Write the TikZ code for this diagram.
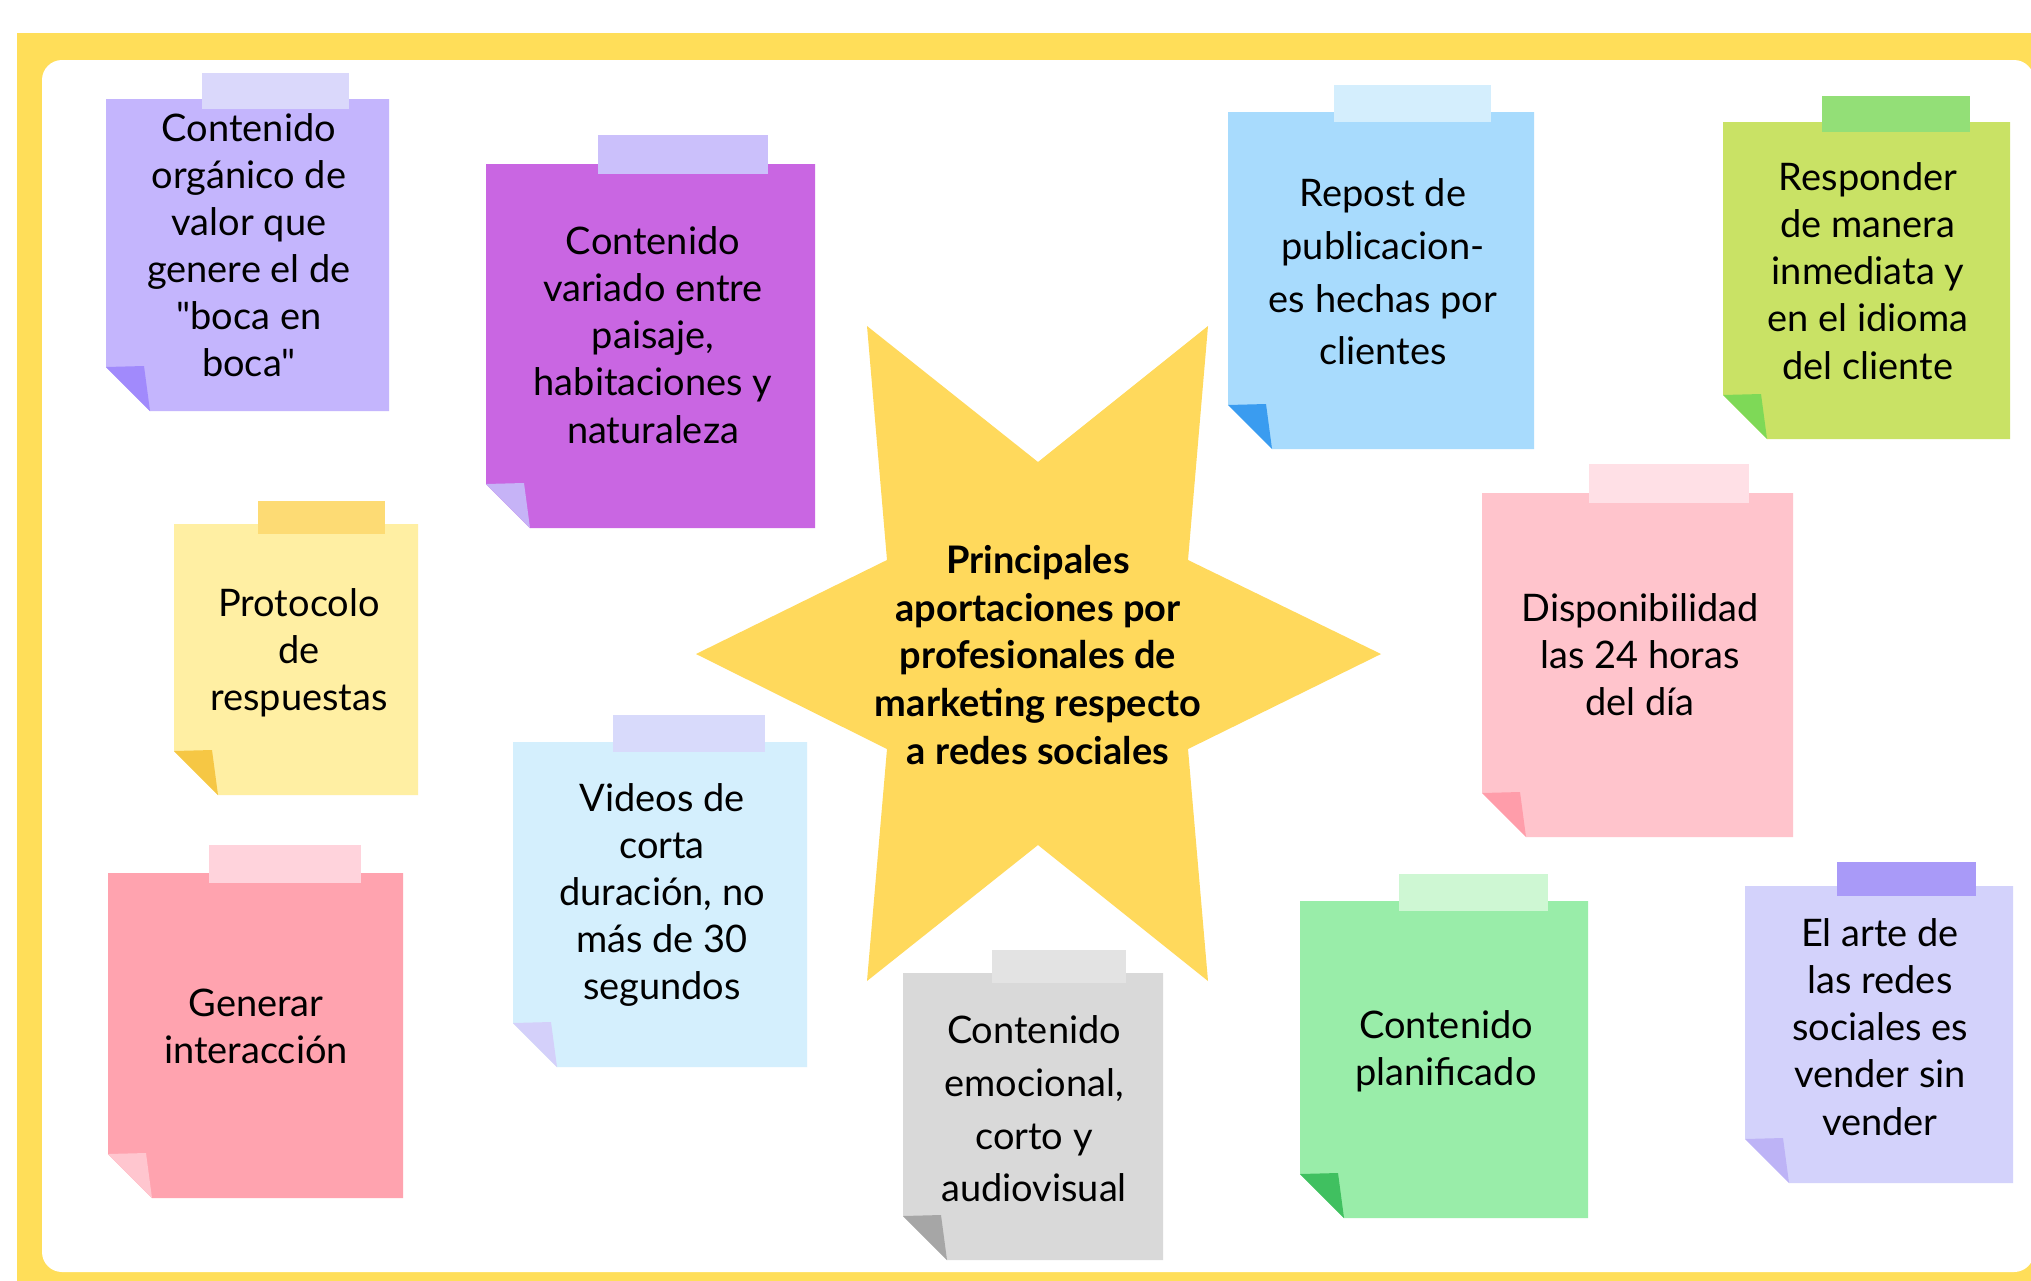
\documentclass[tikz,border=0pt]{standalone}
\usepackage{fontspec}
\setmainfont{Lato}
\usepackage{tikz}

\definecolor{frameyellow}{HTML}{FFDE59}
\definecolor{staryellow}{HTML}{FFD95C}
% paper, tape and fold colours of the notes
\definecolor{lilapaper}{HTML}{C4B5FD}  \definecolor{lilatape}{HTML}{DAD8FB}  \definecolor{lilafold}{HTML}{A18AFC}
\definecolor{magpaper}{HTML}{C966E2}   \definecolor{magtape}{HTML}{CBC0FB}   \definecolor{magfold}{HTML}{C6B3F7}
\definecolor{skypaper}{HTML}{A8DBFD}   \definecolor{skytape}{HTML}{D4EEFD}   \definecolor{skyfold}{HTML}{3A9CF0}
\definecolor{limepaper}{HTML}{C9E265}  \definecolor{limetape}{HTML}{93DF77}  \definecolor{limefold}{HTML}{7ED957}
\definecolor{butterpaper}{HTML}{FFEFA3}\definecolor{buttertape}{HTML}{FDDB74}\definecolor{butterfold}{HTML}{F6C744}
\definecolor{icepaper}{HTML}{D4EFFD}   \definecolor{icetape}{HTML}{D8DAFB}   \definecolor{icefold}{HTML}{D4D0FA}
\definecolor{rosepaper}{HTML}{FFA3AF}  \definecolor{rosetape}{HTML}{FFD3DC}  \definecolor{rosefold}{HTML}{FFC6CF}
\definecolor{greypaper}{HTML}{D9D9D9}  \definecolor{greytape}{HTML}{E3E3E3}  \definecolor{greyfold}{HTML}{A6A6A6}
\definecolor{mintpaper}{HTML}{99EDA9}  \definecolor{minttape}{HTML}{CEF7D3}  \definecolor{mintfold}{HTML}{40C060}
\definecolor{blushpaper}{HTML}{FFC4CC} \definecolor{blushtape}{HTML}{FFE0E6} \definecolor{blushfold}{HTML}{FF9DAA}
\definecolor{lavpaper}{HTML}{D3D2FB}   \definecolor{lavtape}{HTML}{A99AF8}   \definecolor{lavfold}{HTML}{BDB3F6}

% #1 colour, #2 left, #3 top, #4 right, #5 bottom, #6 tape left, #7 tape right, #8 tape top
\newcommand*{\stickynote}[8]{%
  \fill[#1paper] (#2,#3) -- (#4,#3) -- (#4,#5) -- (#2+44,#5) -- (#2,#5-44) -- cycle;
  \fill[#1fold] (#2,#5-44) -- (#2+38,#5-45) -- (#2+44,#5) -- cycle;
  \fill[#1tape] (#6,#8) rectangle (#7,#3+10);
}

\begin{document}
\begin{tikzpicture}[x=0.1mm, y=-0.1mm]
  \useasboundingbox (0,0) rectangle (2031,1280);

  % frame
  \fill[frameyellow] (17,33) rectangle (2100,1330);
  \fill[white, rounded corners=2mm] (42,60) rectangle (2034,1272);

  % star
  \fill[staryellow] (867,326) -- (1038,462) -- (1208,326) -- (1188,560) -- (1381,654)
    -- (1188,749) -- (1208,981) -- (1038,845) -- (867,981) -- (887,749)
    -- (696,654) -- (887,560) -- cycle;

  % notes
  \stickynote{lila}{106}{99}{389}{411}{202}{349}{73}
  \stickynote{mag}{486}{164}{815}{528}{598}{768}{135}
  \stickynote{sky}{1228}{112}{1534}{449}{1334}{1491}{85}
  \stickynote{lime}{1723}{122}{2010}{439}{1822}{1970}{96}
  \stickynote{butter}{174}{524}{418}{795}{258}{385}{501}
  \stickynote{ice}{513}{742}{807}{1067}{613}{765}{715}
  \stickynote{rose}{108}{873}{403}{1198}{209}{361}{845}
  \stickynote{grey}{903}{973}{1163}{1260}{992}{1126}{950}
  \stickynote{mint}{1300}{901}{1588}{1218}{1399}{1548}{874}
  \stickynote{blush}{1482}{493}{1793}{837}{1589}{1749}{464}
  \stickynote{lav}{1745}{886}{2013}{1183}{1837}{1976}{862}

  {\tikzstyle{every node}=[align=center, inner sep=0pt, font=\fontsize{10.8}{13.4}\selectfont]
    \node (organico) at (249,245) {Contenido\\orgánico de\\valor que\\genere el de\\\textquotedbl boca en\\boca\textquotedbl};
    \node (variado) at (653,335) {Contenido\\variado entre\\paisaje,\\habitaciones y\\naturaleza};
    \node[font=\fontsize{10.8}{15}\selectfont] (repost) at (1383,272) {Repost de\\publicacion-\\es hechas por\\clientes};
    \node (responder) at (1868,271) {Responder\\de manera\\inmediata y\\en el idioma\\del cliente};
    \node (protocolo) at (299,653) {Protocolo\\de\\respuestas};
    \node (videos) at (662,895) {Videos de\\corta\\duración, no\\más de 30\\segundos};
    \node (interaccion) at (256,1026) {Generar\\interacción};
    \node[font=\fontsize{10.8}{15}\selectfont] (emocional) at (1034,1109) {Contenido\\emocional,\\corto y\\audiovisual};
    \node (planificado) at (1446,1051) {Contenido\\planificado};
    \node (disponibilidad) at (1640,655) {Disponibilidad\\las 24 horas\\del día};
    \node (arte) at (1880,1027) {El arte de\\las redes\\sociales es\\vender sin\\vender};
    \node[font=\bfseries\fontsize{10.8}{13.6}\selectfont] (titulo) at (1038,655)
      {Principales\\aportaciones por\\profesionales de\\marketing respecto\\a redes sociales};
  }
\end{tikzpicture}
\end{document}
